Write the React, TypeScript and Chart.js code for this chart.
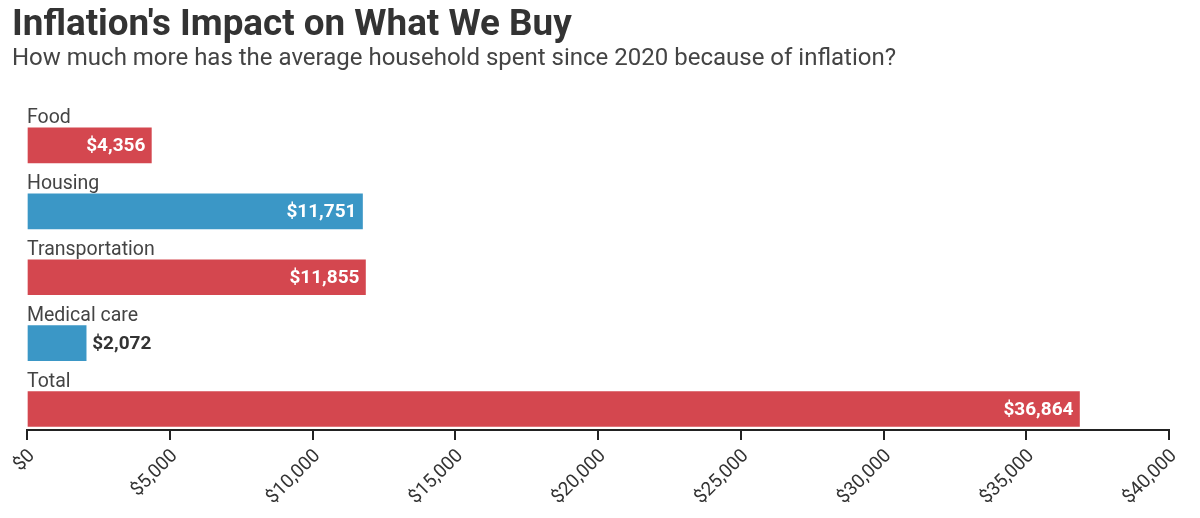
import React, { useEffect, useRef } from "react";
import { Chart, registerables } from "chart.js";

Chart.register(...registerables);

const categories = ["Food", "Housing", "Transportation", "Medical care", "Total"];
const values = [4356, 11751, 11855, 2072, 36864];
const barColors = ["#d4474f", "#3b97c6", "#d4474f", "#3b97c6", "#d4474f"];
const xTicks = [0, 5000, 10000, 15000, 20000, 25000, 30000, 35000, 40000];

const TITLE = "Inflation's Impact on What We Buy";
const SUBTITLE = "How much more has the average household spent since 2020 because of inflation?";

const fmt = (v: number) => "$" + v.toLocaleString("en-US");

const labelPlugin = {
  id: "barLabels",
  afterDatasetsDraw(chart: any) {
    const ctx = chart.ctx;
    const meta = chart.getDatasetMeta(0);
    ctx.save();
    meta.data.forEach((bar: any, i: number) => {
      const { x, y, base, height } = bar.getProps(["x", "y", "base", "height"], true);
      ctx.font = "19.5px Roboto";
      ctx.fillStyle = "#444444";
      ctx.textAlign = "left";
      ctx.textBaseline = "alphabetic";
      ctx.fillText(categories[i], base - 1, y - height / 2 - 5);
      const text = fmt(values[i]);
      ctx.font = "bold 19px Roboto";
      const w = ctx.measureText(text).width;
      ctx.textBaseline = "middle";
      if (w + 12 < x - base) {
        ctx.fillStyle = "#ffffff";
        ctx.textAlign = "right";
        ctx.fillText(text, x - 6, y + 1);
      } else {
        ctx.fillStyle = "#333333";
        ctx.textAlign = "left";
        ctx.fillText(text, x + 6, y + 1);
      }
    });
    ctx.restore();
  },
};

export default function App() {
  const ref = useRef<HTMLCanvasElement>(null);
  useEffect(() => {
    if (!ref.current) return;
    const chart = new Chart(ref.current, {
      type: "bar",
      data: {
        datasets: [
          {
            data: values.map((v, i) => ({ x: v, y: i })) as any,
            backgroundColor: barColors,
            barThickness: 35,
          } as any,
        ],
      },
      options: {
        indexAxis: "y",
        animation: false,
        responsive: true,
        maintainAspectRatio: false,
        layout: { padding: { top: 90, left: 0, right: 0, bottom: 0 } },
        plugins: {
          legend: { display: false },
          tooltip: { enabled: false },
        },
        scales: {
          y: {
            type: "linear",
            display: false,
            offset: false,
            reverse: true,
            min: -0.72,
            max: 4.318,
          },
          x: {
            type: "linear",
            min: 0,
            max: 40000,
            afterBuildTicks: (scale: any) => {
              scale.ticks = xTicks.map((v) => ({ value: v }));
            },
            afterFit: (scale: any) => {
              scale.height = 80;
              scale.paddingLeft = 19;
              scale.paddingRight = 23;
            },
            grid: {
              drawOnChartArea: false,
              drawTicks: true,
              tickLength: 10,
              color: "#222222",
              lineWidth: 2,
            },
            border: { display: true, color: "#222222", width: 2 },
            ticks: {
              autoSkip: false,
              minRotation: 45,
              maxRotation: 45,
              padding: 5,
              labelOffset: 5,
              color: "#333333",
              font: { family: "Roboto", size: 19 },
              callback: (v: any) => fmt(Number(v)),
            },
          },
        },
      },
      plugins: [labelPlugin],
    });
    return () => chart.destroy();
  }, []);

  return (
    <div style={{ position: "relative", width: 1184, height: 502, fontFamily: "Roboto", background: "#fff" }}>
      <canvas ref={ref} />
      <div
        style={{
          position: "absolute",
          left: 4,
          top: -4,
          fontSize: 36.8,
          fontWeight: 700,
          lineHeight: "37px",
          color: "#333333",
          whiteSpace: "nowrap",
        }}
      >
        {TITLE}
      </div>
      <div
        style={{
          position: "absolute",
          left: 4,
          top: 37,
          fontSize: 24,
          fontWeight: 400,
          lineHeight: "24px",
          color: "#444444",
          whiteSpace: "nowrap",
        }}
      >
        {SUBTITLE}
      </div>
    </div>
  );
}
